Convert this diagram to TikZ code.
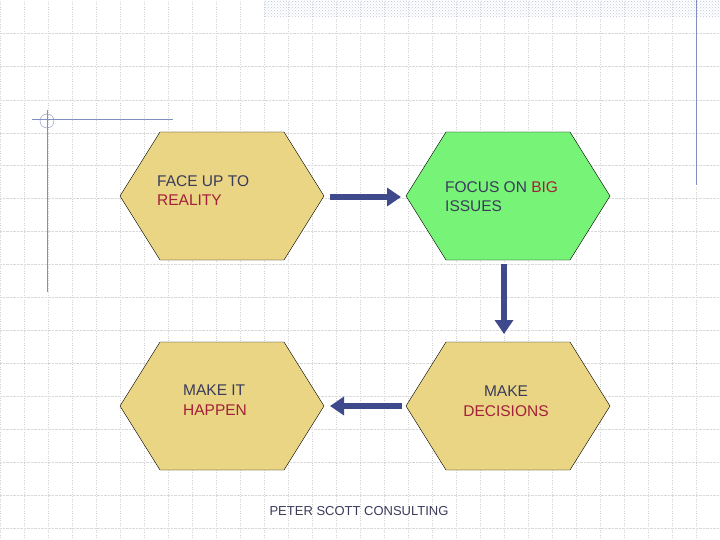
\documentclass[tikz,border=0pt]{standalone}
\usepackage{fontspec}
\setmainfont{Liberation Sans}
\usetikzlibrary{patterns,arrows.meta}
\definecolor{hexy}{HTML}{E9D584}
\definecolor{hexg}{HTML}{77F477}
\definecolor{arr}{HTML}{3E4A8C}
\definecolor{txt}{HTML}{3B3B5B}
\definecolor{rd}{HTML}{A3203A}
\definecolor{deco}{HTML}{7F8FBF}
\begin{document}
\begin{tikzpicture}[x=1pt,y=-1pt,
  lbl/.style={font=\fontsize{15.5}{19.5}\selectfont,text=txt,align=left,inner sep=0},
  conn/.style={draw=arr,line width=6.5pt,-{Triangle[length=14pt,width=18pt]}}]
\fill[white] (0,0) rectangle (720,540);
\useasboundingbox (0,0) rectangle (720,540);
\draw[gray!35,dotted,step=24] (0,0) grid (720,540);
\foreach \y in {33,66,100,133,165,198,231,264,297,330,363,396,429,462,495,528}
  \draw[gray!30,densely dotted] (0,\y) -- (720,\y);
\fill[pattern=crosshatch dots,pattern color=deco!50] (264,0) rectangle (720,17);
\draw[deco] (696,0) -- (696,185);
\draw[deco] (32,119) -- (173,119);
\draw[deco] (47,110) -- (47,292);
\draw[deco] (47,121) circle (7);
\newcommand{\hexat}[3]{\draw[black,fill=#3] (#1-102,#2) -- (#1-62,#2-64) -- (#1+62,#2-64) -- (#1+102,#2) -- (#1+62,#2+64) -- (#1-62,#2+64) -- cycle;}
\hexat{222}{196}{hexy}
\hexat{508}{196}{hexg}
\hexat{222}{406}{hexy}
\hexat{508}{406}{hexy}
\node[lbl,anchor=north west] (a) at (157,175) {FACE UP TO\\\textcolor{rd}{REALITY}};
\node[lbl,anchor=north west] (b) at (445,181) {FOCUS ON \textcolor{rd}{BIG}\\ISSUES};
\node[lbl,anchor=north west] (c) at (183,385) {MAKE IT\\\textcolor{rd}{HAPPEN}};
\node[lbl,anchor=north,align=center] (d) at (506,386) {MAKE\\\textcolor{rd}{DECISIONS}};
\coordinate (p1) at (330,197); \coordinate (p2) at (401,197);
\coordinate (p3) at (504,264); \coordinate (p4) at (504,334);
\coordinate (p5) at (402,406); \coordinate (p6) at (330,406);
\draw[conn] (p1) -- (p2);
\draw[conn] (p3) -- (p4);
\draw[conn] (p5) -- (p6);
\node[font=\fontsize{13}{15}\selectfont,text=txt] (f) at (359,511) {PETER SCOTT CONSULTING};
\end{tikzpicture}
\end{document}
